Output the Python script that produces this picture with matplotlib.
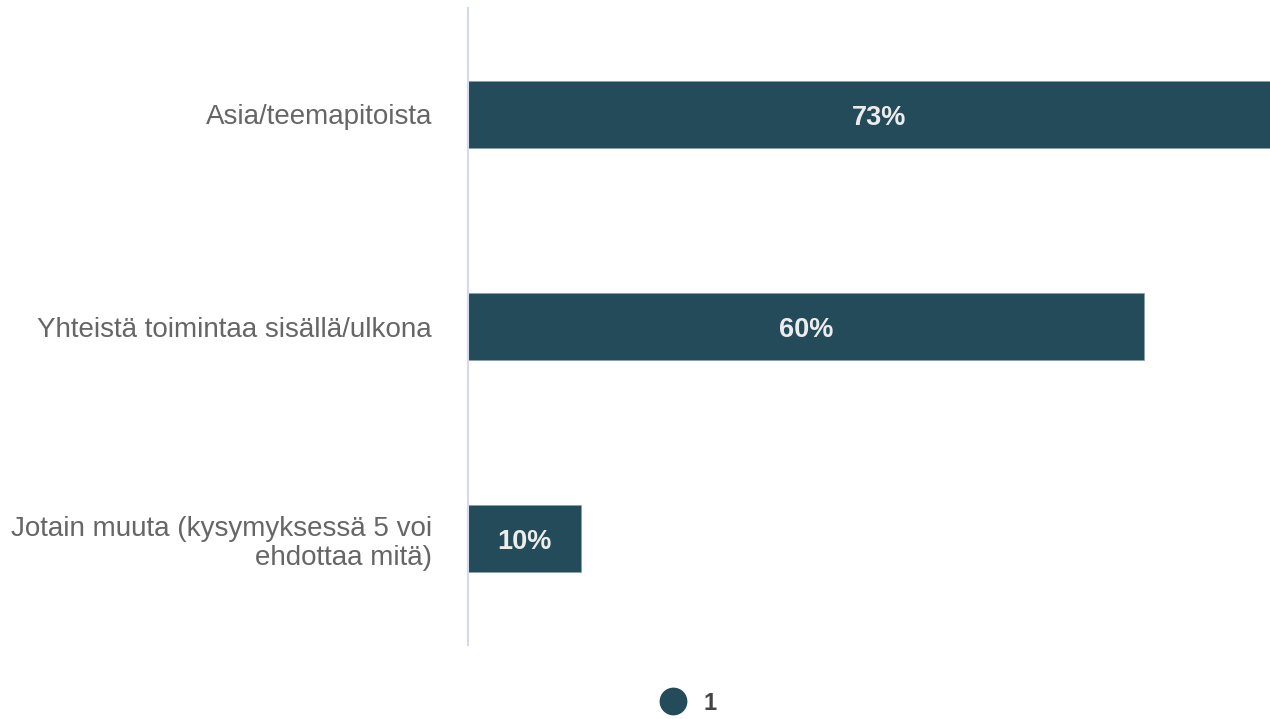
import matplotlib
matplotlib.use("Agg")
import matplotlib.pyplot as plt
from matplotlib.lines import Line2D

categories = ["Asia/teemapitoista",
              "Yhteistä toimintaa sisällä/ulkona",
              "Jotain muuta (kysymyksessä 5 voi\nehdottaa mitä)"]
values = [73, 60, 10]
labels = ["73%", "60%", "10%"]
series_name = "1"

plt.rcParams['font.family'] = ['Liberation Sans', 'DejaVu Sans']

W, H = 1270, 719
fig = plt.figure(figsize=(W/100, H/100), dpi=100)
ax = fig.add_axes([468/W, 1-645/H, 1-468/W, (645-8)/H])

bar_color = "#234b5a"
ypos = list(range(len(categories)))
bars = ax.barh(ypos, values, height=0.316, color=bar_color, edgecolor="#8aa0a8", linewidth=0.5)
ax.set_ylim(len(categories)-0.5, -0.5)
ax.set_xlim(0, 71.2)

for y, v, lab in zip(ypos, values, labels):
    ax.annotate(lab, (v/2, y), xytext=(0, -2.5), textcoords="offset points",
                ha="center", va="center", color="#ececec", fontsize=19.5, fontweight="bold")

ax.set_yticks(ypos)
ax.set_yticklabels(categories, fontsize=20, color="#666666", ha="right", multialignment="right", linespacing=1.15)
ax.tick_params(axis="y", length=0, pad=26)
ax.set_xticks([])
for s in ["top", "right", "bottom"]:
    ax.spines[s].set_visible(False)
ax.spines["left"].set_color("#d3daf0")
ax.spines["left"].set_linewidth(1.5)

handle = Line2D([], [], marker="o", linestyle="none", markersize=19, markerfacecolor=bar_color, markeredgecolor=bar_color)
fig.legend([handle], [series_name], loc="center", bbox_to_anchor=(683/W, 1-703/H), frameon=False,
           prop={"size": 17, "weight": "bold"}, labelcolor="#444444", handletextpad=0.3)

fig.savefig("out.png", dpi=100)
